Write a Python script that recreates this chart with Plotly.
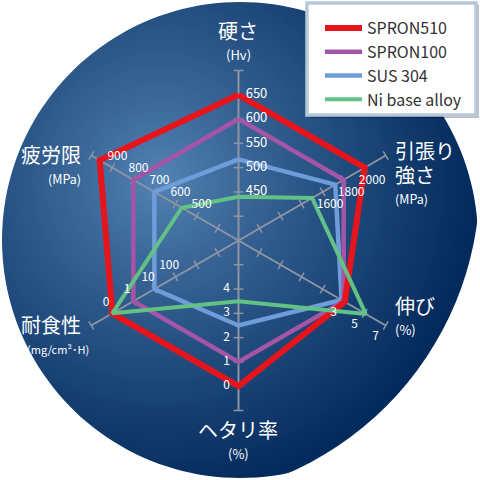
import numpy as np
import plotly.graph_objects as go

# ---------------- data ----------------
categories = ["硬さ", "引張り<br>強さ", "伸び", "ヘタリ率", "耐食性", "疲労限"]
units = ["(Hv)", "(MPa)", "(%)", "(%)", "(mg/cm²･H)", "(MPa)"]

series_names = ["SPRON510", "SPRON100", "SUS 304", "Ni base alloy"]
spron510 = [650, 2000, 3.1, 0, 0, 960]
spron100 = [600, 1800, 3.0, 1, 1, 800]
sus304 = [517, 1720, 2.8, 2.5, 10, 700]
ni_alloy = [440, 1500, 5.1, 3.5, 0, 570]

# tick labels of each spoke
hardness_ticks = [450, 500, 550, 600, 650]
tensile_ticks = [1600, 1800, 2000]
elongation_ticks = [3, 5, 7]
reduction_ticks = [0, 1, 2, 3, 4]
corrosion_ticks = [0, 1, 10, 100]
fatigue_ticks = [500, 600, 700, 800, 900]

# ---------------- layout of the spokes ----------------
W = H = 480
CX, CY, R = 238.5, 240.5, 170       # centre and outer radius in px
N_STEPS = 7
UNIT = R / N_STEPS                  # px per radial step
thetas = [0, 60, 120, 180, 240, 300]
tick_lists = [hardness_ticks, tensile_ticks, elongation_ticks,
              reduction_ticks, corrosion_ticks, fatigue_ticks]
tick_steps = [[2, 3, 4, 5, 6], [4, 5, 6], [5, 6, 7],
              [6, 5, 4, 3, 2], [6, 5, 4, 3], [2, 3, 4, 5, 6]]
log_axis = [False, False, False, False, True, False]
# sideways (clockwise) and along-spoke offset of the tick labels, px
label_side = [18, 15, 15, 12, 12.5, 12]
label_along = [0, 0, -3, 0, 0, 1]


def transform(v, is_log):
    v = np.asarray(v, dtype=float)
    return np.log10(np.maximum(v, 0.1)) if is_log else v


# each spoke is linear (or log) in its own units
scales = [np.polyfit(transform(t, lg), s, 1)
          for t, s, lg in zip(tick_lists, tick_steps, log_axis)]


def to_r(values):
    return [float(np.polyval(scales[k], transform(v, log_axis[k])))
            for k, v in enumerate(values)]


def px(x):
    return x / W


def py(y):
    return 1 - y / H


fig = go.Figure()

# ---------------- background: radial gradient disc ----------------
shapes = []
light = np.array([86, 134, 183])
dark = np.array([3, 42, 92])
fx, fy, RG = 160, 180, 320
n = 70
for i in range(n):
    rho = RG * (1 - i / n)
    t = (rho / RG) ** 0.85
    c = light + (dark - light) * t
    shapes.append(dict(type="circle", xref="paper", yref="paper",
                       x0=px(fx - rho), x1=px(fx + rho),
                       y0=py(fy + rho), y1=py(fy - rho),
                       fillcolor="rgb(%d,%d,%d)" % tuple(c.astype(int)),
                       line=dict(width=0), layer="below"))

# white mask outside the disc
ang = np.linspace(0, 2 * np.pi, 181)
circ = " ".join("L%.4f,%.4f" % (px(240 + 238 * np.cos(a)), py(240 + 238 * np.sin(a)))
                for a in ang)
mask = "M-0.1,-0.1 L1.1,-0.1 L1.1,1.1 L-0.1,1.1 Z M%.4f,%.4f %s Z" % (
    px(478), py(240), circ)
shapes.append(dict(type="path", path=mask, xref="paper", yref="paper",
                   fillcolor="white", line=dict(width=0), fillrule="evenodd",
                   layer="below"))

# legend box with a soft shadow
shapes.append(dict(type="rect", xref="paper", yref="paper",
                   x0=px(310), x1=px(479), y0=py(118), y1=py(5),
                   fillcolor="rgba(0,0,0,0.25)", line=dict(width=0), layer="below"))
shapes.append(dict(type="rect", xref="paper", yref="paper",
                   x0=px(307), x1=px(476), y0=py(115), y1=py(3),
                   fillcolor="white", line=dict(color="#b7c8da", width=3.5),
                   layer="below"))

# ---------------- spoke ticks ----------------
GRID = "#8e95a3"
tk_r = np.tile(np.arange(1, N_STEPS + 1), len(thetas))
tk_t = np.repeat(thetas, N_STEPS)
fig.add_trace(go.Scatterpolar(
    r=tk_r, theta=tk_t, mode="markers", hoverinfo="skip", showlegend=False,
    marker=dict(symbol="line-ew", size=7, angle=tk_t,
                line=dict(color=GRID, width=1.5))))

# ---------------- series ----------------
series = [spron510, spron100, sus304, ni_alloy]
colors = ["#e8141c", "#a455a6", "#6e9dd9", "#62c184"]
widths = [6, 4.5, 4.5, 4]
draw_order = [2, 1, 0, 3]
for i in draw_order:
    r = to_r(series[i])
    fig.add_trace(go.Scatterpolar(
        r=r + r[:1], theta=thetas + thetas[:1], mode="lines",
        name=series_names[i], legendrank=i + 1, legendgroup=series_names[i],
        line=dict(color=colors[i], width=widths[i]),
        hoverinfo="skip", cliponaxis=False))

# tick labels, set beside their spoke, on top of the lines
for k, ticks in enumerate(tick_lists):
    r0 = np.array([float(np.polyval(scales[k], transform(v, log_axis[k])))
                   for v in ticks]) + label_along[k] / UNIT
    side = label_side[k] / UNIT
    fig.add_trace(go.Scatterpolar(
        r=np.hypot(r0, side),
        theta=thetas[k] + np.degrees(np.arctan2(side, r0)),
        mode="text", text=[str(v) for v in ticks],
        textposition="middle center",
        textfont=dict(color="white", size=13 if k == 0 else 12,
                      family="Noto Sans CJK JP"),
        hoverinfo="skip", showlegend=False, cliponaxis=False))

# ---------------- category labels ----------------
ann = []
big = dict(color="white", size=20, family="Noto Sans CJK JP")
small = dict(color="white", size=13, family="Noto Sans CJK JP")
LINE = 24
label_xy = [(238, 30, "center"), (394, 150, "left"), (394, 305, "left"),
            (238, 429, "center"), (82, 324.5, "right"), (82, 154, "right")]
unit_size = [13, 12.5, 13, 13, 11, 12.5]
unit_x = [238, 394, 394, 238, 58, 82]
unit_anchor = ["center", "left", "left", "center", "center", "right"]
for k in range(len(categories)):
    x, y, a = label_xy[k]
    lines = categories[k].split("<br>")
    for j, line in enumerate(lines):
        ann.append(dict(x=px(x), y=py(y + LINE * j), xref="paper", yref="paper",
                        xanchor=a, yanchor="middle", text=line, showarrow=False,
                        font=big, align=a, borderpad=0))
    ann.append(dict(x=px(unit_x[k]), y=py(y + LINE * len(lines)),
                    xref="paper", yref="paper", xanchor=unit_anchor[k],
                    yanchor="middle", text=units[k], showarrow=False,
                    font=dict(small, size=unit_size[k]), borderpad=0))

fig.update_layout(
    width=W, height=H,
    margin=dict(l=0, r=0, t=0, b=0),
    paper_bgcolor="white",
    shapes=shapes,
    annotations=ann,
    showlegend=True,
    legend=dict(x=px(320), y=py(11), xanchor="left", yanchor="top",
                bgcolor="rgba(0,0,0,0)", borderwidth=0, itemwidth=37,
                tracegroupgap=0,
                font=dict(size=16, color="#333333", family="Noto Sans CJK JP")),
    polar=dict(
        domain=dict(x=[px(CX - R), px(CX + R)], y=[py(CY + R), py(CY - R)]),
        bgcolor="rgba(0,0,0,0)",
        radialaxis=dict(range=[0, N_STEPS], visible=False, showgrid=False),
        angularaxis=dict(rotation=90, direction="clockwise", tickvals=thetas,
                         showticklabels=False, ticks="", showline=False,
                         gridcolor=GRID, gridwidth=1.5),
    ),
)

# the page's default body margin would push the 480px figure off by 8px
fig.write_html("out.html", config={"displayModeBar": False},
               post_script="document.body.style.margin='0px';")
